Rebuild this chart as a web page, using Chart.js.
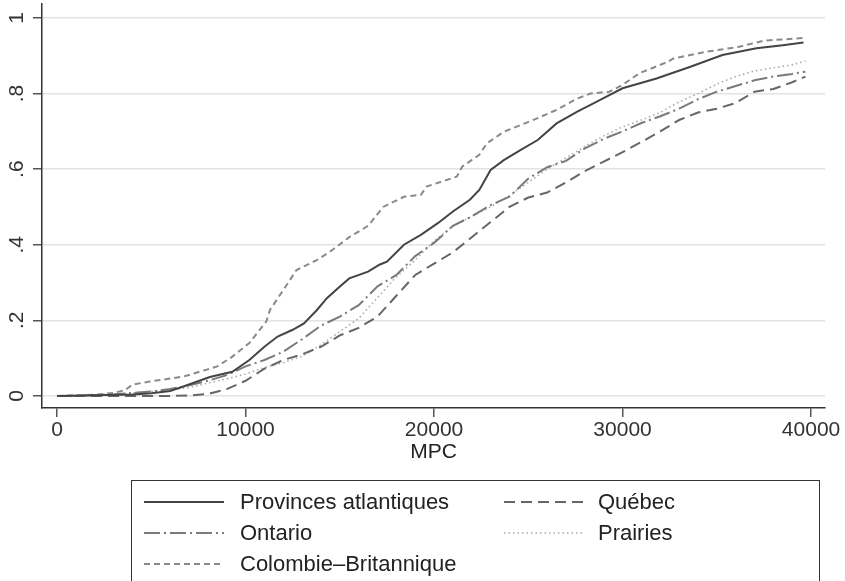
<!DOCTYPE html>
<html>
<head>
<meta charset="utf-8">
<script src="https://cdn.jsdelivr.net/npm/chart.js@4.4.1/dist/chart.umd.min.js"></script>
<style>
  body { margin: 0; background: #fff; overflow: hidden; }
  #wrap { position: relative; width: 845px; height: 581px; }
  #legend {
    position: absolute; left: 131px; top: 480px; width: 689px; height: 120px;
    border: 1.5px solid #333; box-sizing: border-box;
    font-family: "Liberation Sans", Arial, sans-serif; font-size: 22px; color: #222;
  }
  .item { position: absolute; height: 30px; line-height: 30px; white-space: nowrap; }
  .item svg { position: absolute; left: 0; top: 0; }
  .item span { position: absolute; }
</style>
</head>
<body>
<div id="wrap">
  <canvas id="graph" width="845" height="581"></canvas>
  <div id="legend"></div>
</div>
<script>
// MPC grid (x) shared by Québec, Ontario, Prairies
const mpc = [0, 1000, 2000, 3000, 4000, 5000, 6000, 7000, 8000, 9000,
  10000, 11000, 12000, 13000, 14000, 15000, 16000, 17000, 18000, 19000,
  20000, 21000, 22000, 23000, 24000, 25000, 26000, 27000, 28000, 29000,
  30000, 31000, 32000, 33000, 34000, 35000, 36000, 37000, 38000, 39000, 39700];

// Provinces atlantiques: own x points
const atlX = [0, 2000, 4000, 5000, 6000, 6700, 8100, 9300, 10200, 11000,
  11700, 12500, 13100, 13800, 14300, 14900, 15500, 16500, 17100, 17500,
  18400, 19300, 20200, 21000, 21900, 22400, 23000, 23700, 24600, 25500,
  26500, 27600, 28300, 29300, 30000, 31800, 33600, 35300, 37100, 38500, 39600];
const atlantiques = [0, 0.002, 0.004, 0.007, 0.013, 0.025, 0.05, 0.064, 0.095, 0.13,
  0.157, 0.175, 0.192, 0.228, 0.258, 0.285, 0.311, 0.329, 0.347, 0.355,
  0.4, 0.426, 0.457, 0.488, 0.519, 0.545, 0.598, 0.624, 0.651, 0.677,
  0.721, 0.752, 0.77, 0.796, 0.814, 0.84, 0.871, 0.902, 0.92, 0.928, 0.935];

// Colombie-Britannique: own x points
const cbX = [0, 2000, 3000, 3600, 4000, 4900, 6700, 8500, 9300, 10200,
  11100, 11300, 12000, 12700, 13800, 14600, 15500, 16500, 17300, 18400,
  19300, 19600, 21200, 21500, 22400, 22800, 23700, 24600, 25500, 26500,
  27600, 28300, 29300, 30000, 30900, 32400, 32700, 34500, 36200, 37500, 39600];
const colombie = [0, 0.003, 0.008, 0.015, 0.03, 0.038, 0.051, 0.078, 0.104, 0.14,
  0.197, 0.228, 0.28, 0.333, 0.36, 0.386, 0.42, 0.45, 0.5, 0.527,
  0.532, 0.554, 0.58, 0.607, 0.638, 0.668, 0.699, 0.717, 0.735, 0.757,
  0.787, 0.8, 0.805, 0.823, 0.854, 0.884, 0.893, 0.911, 0.924, 0.94, 0.947];

const quebec = [0, 0, 0, 0, 0, 0, 0, 0.001, 0.005, 0.018,
  0.04, 0.072, 0.095, 0.11, 0.13, 0.16, 0.18, 0.21, 0.265, 0.32,
  0.35, 0.38, 0.42, 0.46, 0.5, 0.525, 0.538, 0.565, 0.595, 0.62,
  0.645, 0.672, 0.7, 0.73, 0.75, 0.76, 0.775, 0.805, 0.812, 0.83, 0.845];

const ontario = [0, 0, 0.002, 0.004, 0.008, 0.012, 0.018, 0.028, 0.04, 0.055,
  0.078, 0.095, 0.117, 0.15, 0.186, 0.21, 0.24, 0.29, 0.32, 0.37,
  0.405, 0.45, 0.475, 0.505, 0.527, 0.575, 0.605, 0.622, 0.655, 0.68,
  0.70, 0.722, 0.74, 0.76, 0.785, 0.805, 0.82, 0.835, 0.845, 0.852, 0.858];

const prairies = [0, 0.001, 0.003, 0.005, 0.008, 0.012, 0.016, 0.022, 0.034, 0.045,
  0.058, 0.075, 0.088, 0.105, 0.135, 0.17, 0.205, 0.26, 0.315, 0.36,
  0.41, 0.45, 0.475, 0.5, 0.53, 0.565, 0.6, 0.63, 0.66, 0.688,
  0.712, 0.73, 0.75, 0.778, 0.8, 0.825, 0.845, 0.86, 0.868, 0.876, 0.886];

const yTicks = [0, 0.2, 0.4, 0.6, 0.8, 1];
const yTickLabels = ['0', '.2', '.4', '.6', '.8', '1'];
const xTicks = [0, 10000, 20000, 30000, 40000];

function pts(xs, vals) {
    return xs.map((x, i) => ({ x: x, y: vals[i] }));
}

const font = { family: '"Liberation Sans", Arial, sans-serif', size: 21 };

var ctx = document.getElementById('graph').getContext('2d');
var myChart = new Chart(ctx, {
    type: 'line',
    data: {
        datasets: [
            { label: 'Provinces atlantiques', data: pts(atlX, atlantiques), borderColor: '#444', borderWidth: 2, borderDash: [] },
            { label: 'Québec', data: pts(mpc, quebec), borderColor: '#666', borderWidth: 2, borderDash: [11, 6] },
            { label: 'Ontario', data: pts(mpc, ontario), borderColor: '#7a7a7a', borderWidth: 2, borderDash: [16, 4, 2, 4] },
            { label: 'Prairies', data: pts(mpc, prairies), borderColor: '#aaa', borderWidth: 1.6, borderDash: [1.5, 3] },
            { label: 'Colombie\u2013Britannique', data: pts(cbX, colombie), borderColor: '#8a8a8a', borderWidth: 2, borderDash: [6, 4] }
        ]
    },
    options: {
        responsive: false,
        animation: false,
        layout: { padding: { top: 4, left: 0, right: 20, bottom: 113 } },
        elements: {
            point: { radius: 0 },
            line: { tension: 0, fill: false }
        },
        plugins: {
            legend: { display: false },
            tooltip: { enabled: false }
        },
        scales: {
            x: {
                type: 'linear',
                min: -800,
                max: 40740,
                afterBuildTicks: s => { s.ticks = xTicks.map(v => ({ value: v })); },
                afterFit: s => { s.height = 60; s.paddingLeft = 0; s.paddingRight = 0; },
                ticks: { font: font, color: '#333', padding: 1, maxRotation: 0, callback: v => String(v) },
                grid: { drawOnChartArea: false, tickLength: 9, tickColor: '#555', lineWidth: 1.5 },
                border: { color: '#333', width: 1.5 },
                title: { display: true, text: 'MPC', font: font, color: '#222', padding: { top: 0, bottom: 3 } }
            },
            y: {
                min: -0.032,
                max: 1.037,
                afterBuildTicks: s => { s.ticks = yTicks.map(v => ({ value: v })); },
                afterFit: s => { s.width = 42; s.paddingTop = 0; s.paddingBottom = 0; },
                ticks: {
                    font: font, color: '#333', padding: 7,
                    minRotation: 90, maxRotation: 90, crossAlign: 'center',
                    callback: (v, i) => yTickLabels[yTicks.indexOf(v)]
                },
                grid: { color: '#e3e3e3', lineWidth: 1.5, tickLength: 9, tickColor: '#555' },
                border: { color: '#333', width: 1.5 }
            }
        }
    }
});

// Stata-style two-column legend box built from the datasets
function buildLegend(chart) {
    const box = document.getElementById('legend');
    const colSample = [12, 372];
    const colText = [108, 466];
    chart.data.datasets.forEach((ds, i) => {
        const col = i % 2;
        const row = Math.floor(i / 2);
        const item = document.createElement('div');
        item.className = 'item';
        item.style.left = colSample[col] + 'px';
        item.style.top = (6 + row * 31) + 'px';
        const dash = ds.borderDash && ds.borderDash.length ? ds.borderDash.join(' ') : 'none';
        item.innerHTML =
            '<svg width="82" height="30"><line x1="0" y1="15" x2="80" y2="15" stroke="' + ds.borderColor +
            '" stroke-width="' + ds.borderWidth + '" stroke-dasharray="' + dash + '"/></svg>' +
            '<span style="left:' + (colText[col] - colSample[col]) + 'px">' + ds.label + '</span>';
        box.appendChild(item);
    });
}

buildLegend(myChart);
</script>
</body>
</html>
